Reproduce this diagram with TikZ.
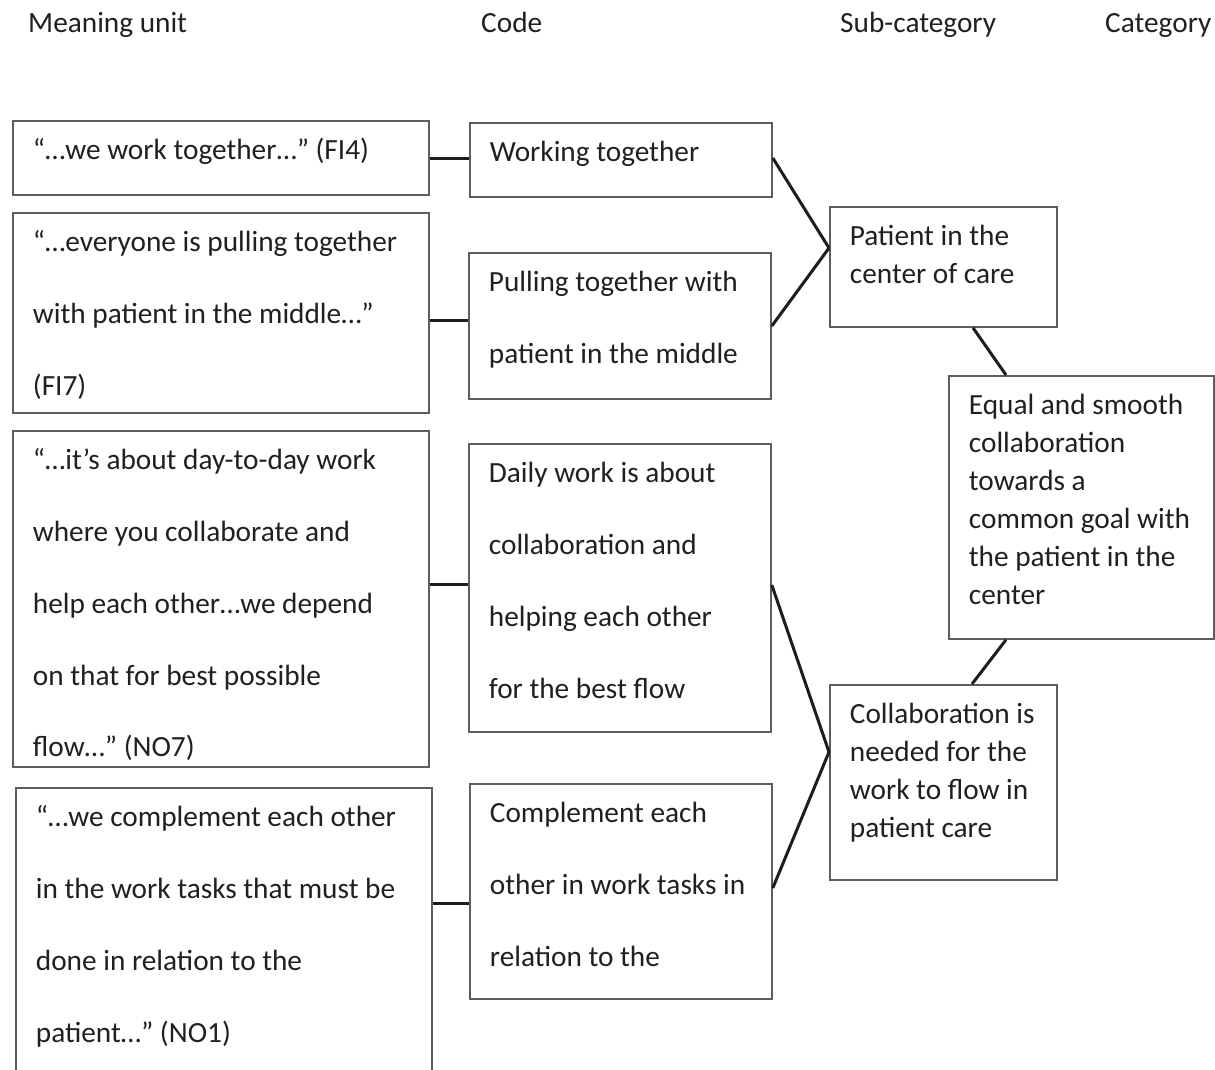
\documentclass[tikz,border=0pt]{standalone}
\usepackage{fontspec}
\setmainfont{Carlito}
\definecolor{ink}{HTML}{231F20}
\definecolor{frame}{HTML}{5E5E5E}
\definecolor{wire}{HTML}{1E1C1D}
\newcommand{\cellbox}[4]{\parbox[t][#2pt][t]{#1pt}{\fontsize{29.3}{#3}\selectfont\leftskip=20pt\rightskip=0pt plus 1fil\parindent=0pt\rule{0pt}{39pt}#4}}
\tikzset{
  cell/.style={draw=frame, line width=1.8pt, inner sep=0pt, anchor=north west, text=ink},
  hdr/.style={inner sep=0pt, anchor=base west, text=ink, font=\fontsize{29.3}{35}\selectfont},
  conn/.style={draw=wire, line width=3pt},
}
\begin{document}
\begin{tikzpicture}[x=1pt, y=-1pt]
\clip (0,0) rectangle (1215,1070);
\fill[white] (0,0) rectangle (1215,1070);
% headers
\node[hdr] (h1) at (28,33) {Meaning unit};
\node[hdr] (h2) at (481,33) {Code};
\node[hdr] (h3) at (840,33) {Sub-category};
\node[hdr] (h4) at (1105,33) {Category};
% meaning units
\node[cell] (mu1) at (12,120) {\cellbox{416}{74}{38}{“…we work together…” (FI4)}};
\node[cell] (mu2) at (12,212) {\cellbox{416}{200}{71.7}{“…everyone is pulling together\\with patient in the middle…”\\(FI7)}};
\node[cell] (mu3) at (12,430) {\cellbox{416}{336}{71.7}{“…it’s about day-to-day work\\where you collaborate and\\help each other…we depend\\on that for best possible\\flow…” (NO7)}};
\node[cell] (mu4) at (15,787) {\cellbox{416}{300}{71.7}{“…we complement each other\\in the work tasks that must be\\done in relation to the\\patient…” (NO1)}};
% codes
\node[cell] (c1) at (469,122) {\cellbox{302}{74}{38}{Working together}};
\node[cell] (c2) at (468,252) {\cellbox{302}{146}{71.7}{Pulling together with\\patient in the middle}};
\node[cell] (c3) at (468,443) {\cellbox{302}{288}{71.7}{Daily work is about\\collaboration and\\helping each other\\for the best flow}};
\node[cell] (c4) at (469,783) {\cellbox{302}{215}{71.7}{Complement each\\other in work tasks in\\relation to the}};
% sub-categories
\node[cell] (s1) at (829,206) {\cellbox{227}{120}{38}{Patient in the\\center of care}};
\node[cell] (s2) at (829,684) {\cellbox{227}{195}{38}{Collaboration is\\needed for the\\work to flow in\\patient care}};
% category
\node[cell] (cat) at (948,375) {\cellbox{265}{263}{38}{Equal and smooth\\collaboration\\towards a\\common goal with\\the patient in the\\center}};
% connectors meaning unit -> code
\draw[conn] (mu1.east |- 0,158) -- (c1.west |- 0,158);
\draw[conn] (mu2.east |- 0,320) -- (c2.west |- 0,320);
\draw[conn] (mu3.east |- 0,584) -- (c3.west |- 0,584);
\draw[conn] (mu4.east |- 0,903) -- (c4.west |- 0,903);
% code -> sub-category
\draw[conn] (c1.east |- 0,158) -- (s1.west |- 0,248);
\draw[conn] (c2.east |- 0,326) -- (s1.west |- 0,248);
\draw[conn] (c3.east |- 0,585) -- (s2.west |- 0,752);
\draw[conn] (c4.east |- 0,888) -- (s2.west |- 0,752);
% sub-category <-> category
\draw[conn] (973,0 |- s1.south) -- (1006,0 |- cat.north);
\draw[conn] (1006,0 |- cat.south) -- (972,0 |- s2.north);
\end{tikzpicture}
\end{document}
